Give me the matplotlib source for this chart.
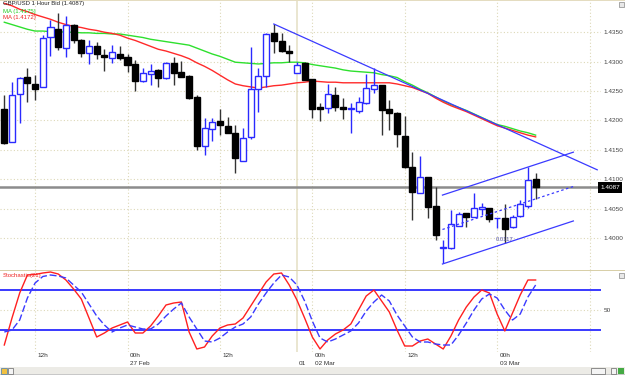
import matplotlib
matplotlib.use("Agg")
import matplotlib.pyplot as plt
from matplotlib.patches import Rectangle
from matplotlib.transforms import blended_transform_factory
import numpy as np

# ---------------- data ----------------
opens = [1.4219, 1.4163, 1.4245, 1.4274, 1.4262, 1.4257, 1.4342, 1.4355, 1.4323, 1.4362,
         1.4337, 1.4315, 1.4327, 1.4311, 1.4306, 1.4313, 1.4308, 1.4296, 1.4267, 1.4279,
         1.4286, 1.4272, 1.4298, 1.4282, 1.4276, 1.4240, 1.4156, 1.4185, 1.4199, 1.4190,
         1.4179, 1.4131, 1.4172, 1.4253, 1.4276, 1.4349, 1.4335, 1.4318, 1.4281, 1.4298,
         1.4270, 1.4223, 1.4221, 1.4243, 1.4223, 1.4219, 1.4216, 1.4230, 1.4253, 1.4260,
         1.4219, 1.4213, 1.4173, 1.4121, 1.4077, 1.4104, 1.4054, 1.3983, 1.3983, 1.4020,
         1.4043, 1.4036, 1.4049, 1.4051, 1.4034, 1.4034, 1.4019, 1.4037, 1.4054, 1.4100]
highs = [1.4243, 1.4265, 1.4274, 1.4289, 1.4277, 1.4345, 1.4371, 1.4383, 1.4378, 1.4364,
         1.4338, 1.4337, 1.4333, 1.4321, 1.4328, 1.4327, 1.4313, 1.4303, 1.4289, 1.4296,
         1.4287, 1.4299, 1.4308, 1.4301, 1.4277, 1.4243, 1.4204, 1.4204, 1.4219, 1.4206,
         1.4192, 1.4187, 1.4325, 1.4289, 1.4349, 1.4364, 1.4349, 1.4328, 1.4299, 1.4299,
         1.4270, 1.4230, 1.4262, 1.4257, 1.4238, 1.4230, 1.4240, 1.4279, 1.4289, 1.4260,
         1.4235, 1.4214, 1.4207, 1.4146, 1.4139, 1.4104, 1.4087, 1.3997, 1.4048, 1.4044,
         1.4043, 1.4077, 1.4060, 1.4051, 1.4034, 1.4058, 1.4039, 1.4065, 1.4121, 1.4111]
lows = [1.4160, 1.4163, 1.4196, 1.4231, 1.4235, 1.4257, 1.4310, 1.4320, 1.4308, 1.4332,
        1.4308, 1.4296, 1.4304, 1.4284, 1.4298, 1.4303, 1.4282, 1.4250, 1.4265, 1.4260,
        1.4257, 1.4270, 1.4260, 1.4274, 1.4236, 1.4150, 1.4141, 1.4165, 1.4175, 1.4179,
        1.4111, 1.4131, 1.4168, 1.4214, 1.4257, 1.4315, 1.4316, 1.4299, 1.4281, 1.4269,
        1.4204, 1.4199, 1.4213, 1.4216, 1.4202, 1.4179, 1.4213, 1.4228, 1.4247, 1.4175,
        1.4184, 1.4155, 1.4119, 1.4031, 1.4077, 1.4034, 1.3997, 1.3957, 1.3981, 1.4020,
        1.4019, 1.4036, 1.4039, 1.4027, 1.4017, 1.3992, 1.4017, 1.4036, 1.4051, 1.4066]
closes = [1.4162, 1.4243, 1.4272, 1.4264, 1.4253, 1.4340, 1.4359, 1.4325, 1.4362, 1.4337,
          1.4315, 1.4327, 1.4313, 1.4308, 1.4316, 1.4306, 1.4294, 1.4267, 1.4281, 1.4284,
          1.4272, 1.4298, 1.4281, 1.4274, 1.4238, 1.4156, 1.4187, 1.4197, 1.4192, 1.4179,
          1.4136, 1.4170, 1.4253, 1.4276, 1.4347, 1.4335, 1.4318, 1.4315, 1.4294, 1.4269,
          1.4219, 1.4219, 1.4245, 1.4223, 1.4219, 1.4221, 1.4231, 1.4255, 1.4260, 1.4218,
          1.4213, 1.4177, 1.4121, 1.4078, 1.4104, 1.4053, 1.4005, 1.3985, 1.4024, 1.4041,
          1.4036, 1.4051, 1.4053, 1.4032, 1.4034, 1.4015, 1.4036, 1.4058, 1.4099, 1.4087]

ma_green = [1.4367, 1.4363, 1.4359, 1.4355, 1.4352, 1.4352, 1.4351, 1.4351, 1.4350, 1.4350,
            1.4349, 1.4349, 1.4348, 1.4348, 1.4347, 1.4347, 1.4345, 1.4343, 1.4341, 1.4338,
            1.4336, 1.4334, 1.4332, 1.4330, 1.4328, 1.4323, 1.4318, 1.4313, 1.4309, 1.4304,
            1.4299, 1.4298, 1.4297, 1.4296, 1.4297, 1.4298, 1.4298, 1.4299, 1.4299, 1.4298,
            1.4295, 1.4293, 1.4291, 1.4289, 1.4286, 1.4284, 1.4283, 1.4282, 1.4281, 1.4278,
            1.4276, 1.4273, 1.4266, 1.4260, 1.4253, 1.4247, 1.4240, 1.4233, 1.4227, 1.4222,
            1.4217, 1.4211, 1.4205, 1.4199, 1.4193, 1.4190, 1.4186, 1.4182, 1.4179, 1.4175]
ma_red = [1.4399, 1.4395, 1.4389, 1.4385, 1.4380, 1.4376, 1.4372, 1.4367, 1.4363, 1.4360,
          1.4358, 1.4355, 1.4353, 1.4350, 1.4348, 1.4345, 1.4340, 1.4336, 1.4331, 1.4326,
          1.4321, 1.4318, 1.4314, 1.4310, 1.4305, 1.4298, 1.4292, 1.4285, 1.4277, 1.4269,
          1.4262, 1.4259, 1.4257, 1.4255, 1.4257, 1.4259, 1.4260, 1.4262, 1.4264, 1.4265,
          1.4267, 1.4266, 1.4265, 1.4265, 1.4264, 1.4264, 1.4264, 1.4264, 1.4264, 1.4264,
          1.4264, 1.4262, 1.4259, 1.4256, 1.4251, 1.4246, 1.4238, 1.4231, 1.4225, 1.4220,
          1.4215, 1.4209, 1.4203, 1.4197, 1.4191, 1.4187, 1.4183, 1.4179, 1.4175, 1.4172]

stoch_k = [15, 42, 67, 85, 85.5, 87, 88, 86, 80, 71,
           61, 42, 23, 27, 32, 35, 38, 27, 27, 34,
           44, 55, 57, 58, 28, 11, 13, 24, 32, 35,
           36, 42, 54, 66, 78, 86, 87, 75, 60, 42,
           23, 11, 20, 26, 30, 36, 50, 64, 70, 59,
           48, 30, 14, 14, 19, 21, 16, 11, 24, 40,
           53, 63, 70, 67, 46, 29, 47, 65, 80, 80]
stoch_d = [28, 30, 40, 62, 77, 83.5, 85, 84, 82, 75,
           68, 56, 44, 35, 28, 32, 35, 33, 31, 31,
           36, 44, 51, 57, 43, 31, 19, 18, 22, 28,
           33, 36, 43, 56, 67, 77, 85, 83, 75, 59,
           39, 22, 18, 21, 25, 29, 37, 49, 58, 65,
           59, 45, 34, 23, 18, 18, 16, 15, 15, 25,
           37, 50, 61, 66, 62, 50, 40, 46, 63, 75]
stoch_levels = [70, 30]

# trend lines / channel (index, price)
trend_down = [(35, 1.4364), (77.0, 1.4116)]
chan_upper = [(56.9, 1.4073), (73.9, 1.4146)]
chan_lower = [(56.9, 1.39558), (73.9, 1.4029)]
chan_mid = [(56.9, 1.40145), (73.9, 1.40876)]
channel_label = "0.0117"

price_ticks = [1.4000, 1.4050, 1.4100, 1.4150, 1.4200, 1.4250, 1.4300, 1.4350]
last_price = 1.4087

tick_idx = [4, 16, 28, 40, 52, 64]
tick_top = ["12h", "00h", "12h", "00h", "12h", "00h"]
tick_bot = ["", "27 Feb", "", "02 Mar", "", "03 Mar"]
grid_idx = [4, 16, 28, 40, 52, 64, 76]
week_sep_idx = 38
week_sep_label = "01"

# ---------------- figure ----------------
W, H = 625, 375
fig = plt.figure(figsize=(6.25, 3.75), dpi=100)
fig.patch.set_facecolor("white")
FONT = "Liberation Sans"
GRID = "#ddd8b8"
BLUE = "#2a2aff"

def fx(x):
    return x / W

def fy(y):
    return 1 - y / H

XL = (-0.558, 77.49)
ax = fig.add_axes([0, fy(270), fx(601), 270 / H])
ax2 = fig.add_axes([0, fy(352), fx(601), 82 / H])

for a in (ax, ax2):
    a.set_xlim(*XL)
    a.set_facecolor("white")
    for s in a.spines.values():
        s.set_visible(False)
    a.set_xticks([])
    for gi in grid_idx:
        a.axvline(gi, color=GRID, lw=0.8, ls=(0, (1, 2)), zorder=0)
    a.axvline(week_sep_idx, color="#e6e1c8", lw=1.2, zorder=0)

ax.set_ylim(1.39456, 1.44048)
ax2.set_ylim(8, 90)

# price grid + labels
ax.yaxis.tick_right()
ax.set_yticks(price_ticks)
ax.set_yticklabels([f"{p:.4f}" for p in price_ticks])
ax.tick_params(axis="y", length=0, pad=2, labelsize=4.6, labelcolor="#444444")
for lab in ax.get_yticklabels():
    lab.set_family(FONT)
for p in price_ticks:
    ax.axhline(p, color=GRID, lw=0.8, ls=(0, (1, 2)), zorder=0)

# current price line
ax.axhline(last_price, color="#8c8c8c", lw=1.8, zorder=1)

# MAs
xs = np.arange(len(opens))
ax.plot(xs, ma_green, color="#2ee02e", lw=1.0, zorder=2)
ax.plot(xs, ma_red, color="#ff2a2a", lw=1.0, zorder=2)

# candles
for i in range(len(opens)):
    o, h, l, c = opens[i], highs[i], lows[i], closes[i]
    bull = c >= o
    wc = BLUE if bull else "#333333"
    ax.vlines(i, l, h, color=wc, lw=1.0, zorder=3)
    bot = min(o, c)
    ht = abs(c - o)
    if bull:
        ax.bar(i, ht, bottom=bot, width=0.78, facecolor="white", edgecolor=BLUE,
               lw=1.0, zorder=4)
    else:
        ax.bar(i, ht, bottom=bot, width=0.78, facecolor="black", edgecolor="black",
               lw=1.0, zorder=4)

# trend lines
for ln, ls in ((trend_down, "-"), (chan_upper, "-"), (chan_lower, "-")):
    ax.plot([ln[0][0], ln[1][0]], [ln[0][1], ln[1][1]], color="#3a3aff", lw=0.9,
            ls=ls, zorder=5)
ax.plot([chan_mid[0][0], chan_mid[1][0]], [chan_mid[0][1], chan_mid[1][1]],
        color="#3a3aff", lw=0.9, ls=(0, (2, 2)), zorder=5)
ax.text(63.8, 1.39983, channel_label, fontsize=4.2, color="#5555aa", family=FONT,
        va="center", ha="left", zorder=6)

# stochastic
ax2.yaxis.tick_right()
ax2.set_yticks([50])
ax2.set_yticklabels(["50"])
ax2.tick_params(axis="y", length=0, pad=2, labelsize=4.6, labelcolor="#444444")
for lab in ax2.get_yticklabels():
    lab.set_family(FONT)
ax2.axhline(50, color=GRID, lw=0.8, ls=(0, (1, 2)), zorder=0)
for lv in stoch_levels:
    ax2.axhline(lv, color=BLUE, lw=1.3, zorder=1)
ax2.plot(xs, stoch_k, color="#ff2020", lw=1.0, zorder=3)
ax2.plot(xs, stoch_d, color="#3a3aff", lw=1.0, ls=(0, (5, 2)), zorder=3)

# time labels
tr = blended_transform_factory(ax2.transData, fig.transFigure)
for i, t, b in zip(tick_idx, tick_top, tick_bot):
    ax2.text(i + 0.35, fy(355.5), t, transform=tr, fontsize=4.6, family=FONT,
             color="#333333", ha="left", va="center", clip_on=False)
    if b:
        ax2.text(i + 0.35, fy(363.5), b, transform=tr, fontsize=4.6, family=FONT,
                 color="#333333", ha="left", va="center", clip_on=False)
ax2.text(week_sep_idx + 0.25, fy(363.5), week_sep_label, transform=tr, fontsize=4.6,
         family=FONT, color="#333333", ha="left", va="center", clip_on=False)

# header texts
fig.text(fx(3), fy(4), "GBP/USD 1 Hour Bid (1.4087)", fontsize=4.3, family=FONT,
         color="#222222", va="center", ha="left")
fig.text(fx(3), fy(11), "MA (1.4175)", fontsize=4.3, family=FONT,
         color="#22cc22", va="center", ha="left")
fig.text(fx(3), fy(18), "MA (1.4172)", fontsize=4.3, family=FONT,
         color="#ee2222", va="center", ha="left")
fig.text(fx(3), fy(275.5), "Stochastic(21)", fontsize=4.3, family=FONT,
         color="#ee2222", va="center", ha="left")

# panel separators
fig.add_artist(Rectangle((0, fy(271)), 1, 1.2 / H, transform=fig.transFigure,
                         facecolor="#d8cfa8", edgecolor="none"))
fig.add_artist(Rectangle((0, fy(1)), 1, 1 / H, transform=fig.transFigure,
                         facecolor="#e4dcc0", edgecolor="none"))

# last price box
fig.add_artist(Rectangle((fx(598), fy(193)), 24 / W, 11 / H, transform=fig.transFigure,
                         facecolor="black", edgecolor="none"))
fig.text(fx(610), fy(187.5), f"{last_price:.4f}", fontsize=4.6, family=FONT,
         color="white", ha="center", va="center")

# small panel icons
for yy in (1, 272):
    fig.add_artist(Rectangle((fx(619), fy(yy + 6)), 5 / W, 5 / H, transform=fig.transFigure,
                             facecolor="#e8e8e8", edgecolor="#888888", lw=0.5))

# bottom scroll bar
fig.add_artist(Rectangle((0, 0), 1, 8 / H, transform=fig.transFigure,
                         facecolor="#ecebe6", edgecolor="none"))
fig.add_artist(Rectangle((0, fy(375)), 1, 0.6 / H, transform=fig.transFigure,
                         facecolor="#c8c8c8", edgecolor="none"))
fig.add_artist(Rectangle((fx(1), fy(374)), 6 / W, 6 / H, transform=fig.transFigure,
                         facecolor="#f0c040", edgecolor="#4477aa", lw=0.5))
fig.add_artist(Rectangle((fx(8), fy(374)), 5 / W, 6 / H, transform=fig.transFigure,
                         facecolor="#f4f4f4", edgecolor="#666666", lw=0.5))
fig.add_artist(Rectangle((fx(591), fy(374)), 14 / W, 6 / H, transform=fig.transFigure,
                         facecolor="#f4f4f4", edgecolor="#666666", lw=0.5))
fig.add_artist(Rectangle((fx(611), fy(374)), 5 / W, 6 / H, transform=fig.transFigure,
                         facecolor="#f4f4f4", edgecolor="#666666", lw=0.5))
fig.add_artist(Rectangle((fx(618), fy(374)), 6 / W, 6 / H, transform=fig.transFigure,
                         facecolor="#44aa44", edgecolor="none"))

fig.savefig("out.png", dpi=100)
